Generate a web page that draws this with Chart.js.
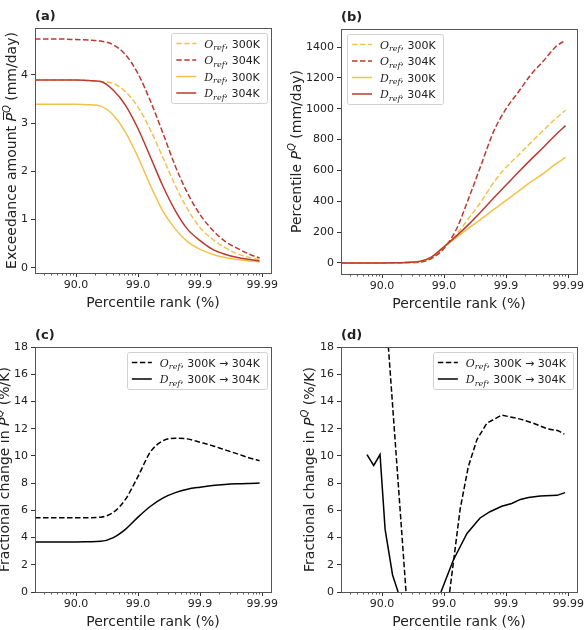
<!DOCTYPE html>
<html>
<head>
<meta charset="utf-8">
<script src="https://cdn.jsdelivr.net/npm/chart.js@4.4.1/dist/chart.umd.min.js"></script>
<style>
  html, body { margin: 0; padding: 0; background: #fff; }
  #wrap { position: relative; width: 588px; height: 630px; overflow: hidden; }
  #wrap canvas { position: absolute; left: 0; top: 0; }
</style>
</head>
<body>
<div id="wrap">
  <canvas id="panel-a" width="588" height="630"></canvas>
  <canvas id="panel-b" width="588" height="630"></canvas>
  <canvas id="panel-c" width="588" height="630"></canvas>
  <canvas id="panel-d" width="588" height="630"></canvas>
</div>
<script>
const SANS = "'DejaVu Sans', sans-serif";
const SERIF = "'DejaVu Serif', serif";
const YELLOW = '#f2c24b';
const RED = '#bb3a30';
const DASH = [5.5, 2.5];

// x axis: percentile rank, shown on a log scale of 1/(1-q)
const xRankLimits = [54.2, 99.9928];
const xTickRanks = [90, 99, 99.9, 99.99];
const xTickLabels = ['90.0', '99.0', '99.9', '99.99'];

// ranks shared by panels (a) - (c)
const ranks = [54.2, 74.9, 84.2, 90, 93.7, 96.0, 97.5, 98.4, 99, 99.37, 99.6, 99.75, 99.84, 99.9, 99.937, 99.96, 99.975, 99.984, 99.989];

// (a) exceedance amount (mm/day)
const excO300 = [3.89, 3.89, 3.89, 3.89, 3.88, 3.86, 3.82, 3.65, 3.33, 2.85, 2.29, 1.70, 1.22, 0.83, 0.59, 0.42, 0.29, 0.21, 0.17];
const excO304 = [4.74, 4.74, 4.74, 4.73, 4.72, 4.70, 4.62, 4.42, 4.02, 3.45, 2.80, 2.10, 1.55, 1.10, 0.78, 0.55, 0.40, 0.28, 0.20];
const excD300 = [3.39, 3.39, 3.39, 3.39, 3.38, 3.35, 3.16, 2.81, 2.29, 1.70, 1.18, 0.80, 0.54, 0.38, 0.28, 0.21, 0.17, 0.14, 0.12];
const excD304 = [3.89, 3.89, 3.89, 3.89, 3.88, 3.86, 3.68, 3.37, 2.88, 2.29, 1.70, 1.18, 0.80, 0.56, 0.38, 0.28, 0.21, 0.17, 0.14];

// (b) percentile (mm/day)
const pctO300 = [0, 0, 0, 0, 0.5, 2, 6, 30, 95, 185, 290, 400, 520, 620, 700, 780, 860, 935, 990];
const pctO304 = [0, 0, 0, 0, 0.5, 2, 5, 28, 95, 220, 420, 640, 850, 1000, 1110, 1220, 1310, 1400, 1445];
const pctD300 = [0, 0, 0, 0, 0.5, 3, 9, 38, 105, 165, 225, 285, 345, 405, 465, 525, 580, 640, 685];
const pctD304 = [0, 0, 0, 0, 0.5, 3, 9, 38, 105, 175, 250, 335, 420, 505, 590, 670, 750, 830, 890];

// (c) fractional change in exceedance amount (%/K)
const chgExcO = [5.45, 5.45, 5.45, 5.45, 5.46, 5.5, 5.85, 6.8, 8.5, 10.3, 11.1, 11.3, 11.25, 11.0, 10.75, 10.45, 10.15, 9.85, 9.65];
const chgExcD = [3.68, 3.68, 3.68, 3.68, 3.69, 3.72, 4.0, 4.6, 5.5, 6.3, 6.9, 7.3, 7.55, 7.7, 7.82, 7.9, 7.95, 7.98, 8.0];

// (d) fractional change in percentile (%/K), null = negative / not shown
const chgPctRanksO = [90, 93.84, 95.9, 97.5, 99.187, 99.45, 99.593, 99.705, 99.796, 99.8825, 99.9411, 99.9637, 99.9781, 99.9855, 99.9885];
const chgPctO = [24.5, 11.2, 0, null, 0, 6.1, 9.2, 11.2, 12.4, 13.0, 12.7, 12.4, 12.0, 11.85, 11.6];
const chgPctRanksD = [82.54, 86.39, 89.24, 91.09, 93.24, 94.5, 97.0, 98.878, 99.292, 99.573, 99.737, 99.818, 99.8825, 99.9187, 99.9411, 99.9564, 99.9718, 99.9849, 99.9888];
const chgPctD = [10.1, 9.3, 10.1, 4.6, 1.25, 0, null, 0, 2.35, 4.3, 5.44, 5.9, 6.3, 6.5, 6.8, 6.95, 7.05, 7.1, 7.3];

const toX = r => 100 / (100 - r);
const pts = (rs, vals) => rs.map((r, i) => ({ x: toX(r), y: vals[i] }));

const TXT = '#222';
const LEG_FONT = 11;

function refLabel(letter, tail) {
  return [
    { t: letter, font: 'italic ' + LEG_FONT + 'px ' + SERIF },
    { t: 'ref', font: 'italic 8px ' + SERIF, dy: 2.5 },
    { t: tail, font: LEG_FONT + 'px ' + SANS }
  ];
}

function richWidth(ctx, parts) {
  let w = 0;
  parts.forEach(p => { ctx.font = p.font; w += ctx.measureText(p.t).width; });
  return w;
}

function drawRich(ctx, parts, x, y, center) {
  let cx = center ? x - richWidth(ctx, parts) / 2 : x;
  parts.forEach(p => {
    ctx.font = p.font;
    ctx.fillText(p.t, cx, y + (p.dy || 0));
    const w = ctx.measureText(p.t).width;
    if (p.bar) {
      ctx.save();
      ctx.strokeStyle = TXT;
      ctx.lineWidth = 1;
      ctx.beginPath();
      ctx.moveTo(cx + 1.5, y - 12.5);
      ctx.lineTo(cx + w + 1, y - 12.5);
      ctx.stroke();
      ctx.restore();
    }
    cx += w;
  });
}

// frame, minor ticks, axis titles, panel letter and legend
const decor = {
  id: 'decor',
  afterDraw(chart, args, o) {
    const ctx = chart.ctx;
    const a = chart.chartArea;
    const xs = chart.scales.x;
    ctx.save();

    // minor ticks on the log axis
    ctx.strokeStyle = '#333';
    ctx.lineWidth = 0.8;
    ctx.beginPath();
    for (let k = 0; k <= 4; k++) {
      for (let m = 2; m <= 9; m++) {
        const v = m * Math.pow(10, k);
        if (v < xs.min || v > xs.max) continue;
        const px = Math.round(xs.getPixelForValue(v)) + 0.5;
        ctx.moveTo(px, a.bottom);
        ctx.lineTo(px, a.bottom + 2.5);
      }
    }
    ctx.stroke();

    // frame
    ctx.strokeStyle = '#555';
    ctx.lineWidth = 1;
    ctx.strokeRect(Math.round(a.left) + 0.5, Math.round(a.top) + 0.5, Math.round(a.right - a.left), Math.round(a.bottom - a.top));

    ctx.fillStyle = TXT;
    ctx.textBaseline = 'alphabetic';

    // panel letter
    ctx.font = 'bold 13px ' + SANS;
    ctx.fillText(o.letter, a.left, a.top - 8);

    // x title
    drawRich(ctx, [{ t: 'Percentile rank (%)', font: '14px ' + SANS }], (a.left + a.right) / 2, a.bottom + 34, true);

    // y title
    ctx.save();
    ctx.translate(o.yTitleX + 5, (a.top + a.bottom) / 2);
    ctx.rotate(-Math.PI / 2);
    drawRich(ctx, o.yTitle, 0, 0, true);
    ctx.restore();

    // legend
    const L = o.legend;
    let tw = 0;
    L.items.forEach(it => { tw = Math.max(tw, richWidth(ctx, it.parts)); });
    const rowH = 16.5;
    const bw = 33 + tw + 7;
    const bh = L.items.length * rowH + 4;
    const bx = L.side === 'right' ? a.right - 4 - bw : a.left + 6;
    const by = a.top + 5;
    ctx.fillStyle = 'rgba(255,255,255,0.85)';
    ctx.strokeStyle = '#d0d0d0';
    ctx.lineWidth = 1;
    ctx.beginPath();
    ctx.roundRect(Math.round(bx) + 0.5, Math.round(by) + 0.5, Math.round(bw), Math.round(bh), 2);
    ctx.fill();
    ctx.stroke();
    L.items.forEach((it, i) => {
      const cy = by + 10.5 + i * rowH;
      ctx.strokeStyle = it.color;
      ctx.lineWidth = 1.5;
      ctx.setLineDash(it.dash ? DASH : []);
      ctx.beginPath();
      ctx.moveTo(bx + 5, cy);
      ctx.lineTo(bx + 25, cy);
      ctx.stroke();
      ctx.setLineDash([]);
      ctx.fillStyle = TXT;
      drawRich(ctx, it.parts, bx + 33, cy + 4, false);
    });

    ctx.restore();
  }
};

function line(data, color, dash, tension) {
  return {
    data: data,
    borderColor: color,
    borderWidth: 1.5,
    borderDash: dash ? DASH : [],
    pointRadius: 0,
    fill: false,
    spanGaps: false,
    cubicInterpolationMode: tension ? 'monotone' : 'default',
    tension: 0
  };
}

function makePanel(id, cfg) {
  return new Chart(document.getElementById(id), {
    type: 'line',
    data: { datasets: cfg.datasets },
    options: {
      responsive: false,
      animation: false,
      events: [],
      layout: { padding: cfg.pad },
      scales: {
        x: {
          type: 'logarithmic',
          min: toX(xRankLimits[0]),
          max: toX(xRankLimits[1]),
          afterBuildTicks: s => { s.ticks = xTickRanks.map(r => ({ value: toX(r) })); },
          afterFit: s => { s.height = 30; },
          ticks: {
            callback: (v, i) => xTickLabels[i],
            font: { family: SANS, size: 11 },
            color: TXT,
            padding: 2,
            maxRotation: 0,
            autoSkip: false
          },
          grid: { drawOnChartArea: false, drawTicks: true, tickLength: 4, color: '#333' },
          border: { display: false }
        },
        y: {
          type: 'linear',
          min: cfg.yMin,
          max: cfg.yMax,
          afterBuildTicks: s => { s.ticks = cfg.yTicks.map(v => ({ value: v })); },
          afterFit: s => { s.width = cfg.yWidth; },
          ticks: {
            callback: v => String(v),
            font: { family: SANS, size: 11 },
            color: TXT,
            padding: 3
          },
          grid: { drawOnChartArea: false, drawTicks: true, tickLength: 4, color: '#333' },
          border: { display: false }
        }
      },
      plugins: {
        legend: { display: false },
        tooltip: { enabled: false },
        decor: cfg.decor
      }
    },
    plugins: [decor]
  });
}

const ySup = (title1, title2, bar) => [
  { t: title1, font: '14px ' + SANS },
  { t: 'P', font: 'italic 14px ' + SANS, bar: bar },
  { t: 'Q', font: 'italic 10px ' + SANS, dy: -6 },
  { t: title2, font: '14px ' + SANS }
];

const fourItems = [
  { color: YELLOW, dash: true, parts: refLabel('O', ', 300K') },
  { color: RED, dash: true, parts: refLabel('O', ', 304K') },
  { color: YELLOW, dash: false, parts: refLabel('D', ', 300K') },
  { color: RED, dash: false, parts: refLabel('D', ', 304K') }
];
const twoItems = [
  { color: '#000', dash: true, parts: refLabel('O', ', 300K \u2192 304K') },
  { color: '#000', dash: false, parts: refLabel('D', ', 300K \u2192 304K') }
];

makePanel('panel-a', {
  pad: { left: 5, top: 28, right: 317, bottom: 327 }, yWidth: 30,
  yMin: -0.11, yMax: 4.97, yTicks: [0, 1, 2, 3, 4],
  datasets: [
    line(pts(ranks, excD304), RED, false, true),
    line(pts(ranks, excD300), YELLOW, false, true),
    line(pts(ranks, excO304), RED, true, true),
    line(pts(ranks, excO300), YELLOW, true, true)
  ],
  decor: { letter: '(a)', yTitleX: 11, yTitle: ySup('Exceedance amount ', ' (mm/day)', true), legend: { side: 'right', items: fourItems } }
});

makePanel('panel-b', {
  pad: { left: 296, top: 29, right: 11, bottom: 326 }, yWidth: 45,
  yMin: -72, yMax: 1517, yTicks: [0, 200, 400, 600, 800, 1000, 1200, 1400],
  datasets: [
    line(pts(ranks, pctD304), RED, false, true),
    line(pts(ranks, pctD300), YELLOW, false, true),
    line(pts(ranks, pctO304), RED, true, true),
    line(pts(ranks, pctO300), YELLOW, true, true)
  ],
  decor: { letter: '(b)', yTitleX: 296, yTitle: ySup('Percentile ', ' (mm/day)', false), legend: { side: 'left', items: fourItems } }
});

makePanel('panel-c', {
  pad: { left: 5, top: 347, right: 317, bottom: 8 }, yWidth: 30,
  yMin: 0, yMax: 18, yTicks: [0, 2, 4, 6, 8, 10, 12, 14, 16, 18],
  datasets: [
    line(pts(ranks, chgExcD), '#000', false, true),
    line(pts(ranks, chgExcO), '#000', true, true)
  ],
  decor: { letter: '(c)', yTitleX: 4, yTitle: ySup('Fractional change in ', ' (%/K)', true), legend: { side: 'right', items: twoItems } }
});

makePanel('panel-d', {
  pad: { left: 311, top: 347, right: 11, bottom: 8 }, yWidth: 30,
  yMin: 0, yMax: 18, yTicks: [0, 2, 4, 6, 8, 10, 12, 14, 16, 18],
  datasets: [
    line(pts(chgPctRanksD, chgPctD), '#000', false, false),
    line(pts(chgPctRanksO, chgPctO), '#000', true, false)
  ],
  decor: { letter: '(d)', yTitleX: 309, yTitle: ySup('Fractional change in ', ' (%/K)', false), legend: { side: 'right', items: twoItems } }
});
</script>
</body>
</html>
